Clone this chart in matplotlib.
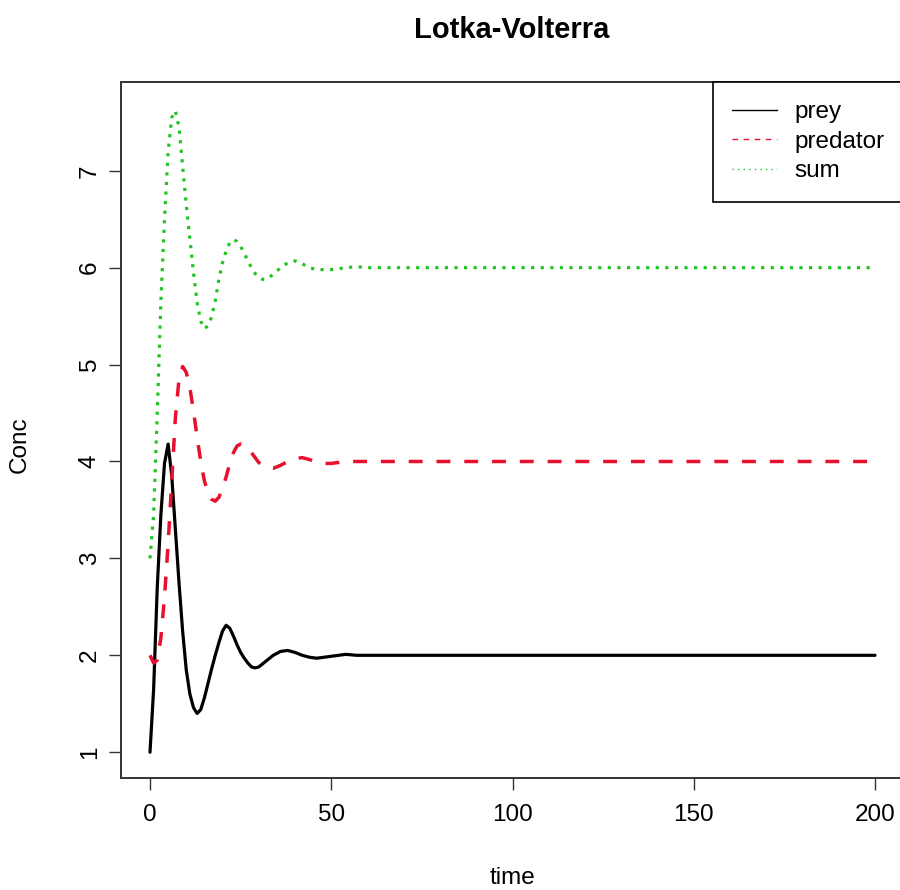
import matplotlib
matplotlib.use('Agg')
import matplotlib.pyplot as plt
from matplotlib.lines import Line2D

plt.rcParams['font.family'] = ['Liberation Sans', 'DejaVu Sans']

# values
time = [0, 1, 2, 3, 4, 5, 6, 7, 8, 9, 10, 11, 12, 13, 14, 15, 16, 17, 18, 19,
        20, 21, 22, 23, 24, 25, 26, 27, 28, 29, 30, 31, 32, 34, 36, 38, 40, 42,
        44, 46, 48, 50, 52, 54, 57, 60, 80, 100, 150, 200]
prey = [1.00, 1.65, 2.70, 3.45, 3.98, 4.18, 3.85, 3.30, 2.75, 2.25, 1.85, 1.60,
        1.46, 1.40, 1.44, 1.56, 1.71, 1.86, 2.00, 2.13, 2.25, 2.31, 2.28, 2.20,
        2.11, 2.03, 1.97, 1.92, 1.88, 1.87, 1.88, 1.91, 1.94, 2.00, 2.04, 2.05,
        2.03, 2.00, 1.98, 1.97, 1.98, 1.99, 2.00, 2.01, 2.00, 2.00, 2.00, 2.00,
        2.00, 2.00]
predator = [2.00, 1.92, 1.95, 2.18, 2.60, 3.15, 3.80, 4.45, 4.85, 4.98, 4.92,
            4.76, 4.52, 4.25, 4.00, 3.80, 3.68, 3.61, 3.59, 3.63, 3.72, 3.84,
            3.98, 4.09, 4.16, 4.18, 4.17, 4.13, 4.09, 4.04, 3.99, 3.96, 3.94,
            3.93, 3.96, 4.00, 4.03, 4.04, 4.02, 3.99, 3.98, 3.98, 3.99, 4.00,
            4.00, 4.00, 4.00, 4.00, 4.00, 4.00]
total = [3.00, 3.45, 4.50, 5.65, 6.50, 7.20, 7.55, 7.62, 7.45, 7.05, 6.65, 6.30,
         5.95, 5.64, 5.45, 5.37, 5.40, 5.49, 5.66, 5.88, 6.05, 6.17, 6.26, 6.29,
         6.27, 6.22, 6.15, 6.07, 6.00, 5.94, 5.90, 5.88, 5.88, 5.93, 6.00, 6.05,
         6.07, 6.04, 6.00, 5.98, 5.98, 5.98, 5.99, 6.00, 6.01, 6.00, 6.00, 6.00,
         6.00, 6.00]

names = ['prey', 'predator', 'sum']
colors = ['black', '#e8102e', '#22c422']
xticks = [0, 50, 100, 150, 200]
yticks = [1, 2, 3, 4, 5, 6, 7]

fs = 17.5

fig = plt.figure(figsize=(9, 8.9), dpi=100)
ax = fig.add_axes([121/900, 1 - 778/890, (904 - 121)/900, (778 - 82)/890])

ax.plot(time, prey, color=colors[0], lw=2.3, solid_capstyle='round')
ax.plot(time, predator, color=colors[1], lw=2.5, dashes=(4.0, 4.0))
ax.plot(time, total, color=colors[2], lw=2.3, dashes=(1.0, 2.0))

ax.set_xlim(-8, 208)
ax.set_ylim(0.734, 7.916)
ax.set_xticks(xticks)
ax.set_yticks(yticks)
ax.set_xticklabels([str(v) for v in xticks])
ax.set_yticklabels([str(v) for v in yticks], rotation=90, va='center')
ax.tick_params(length=8.5, width=1, labelsize=fs, color='#333333')
ax.tick_params(axis='x', pad=10)
ax.tick_params(axis='y', pad=6)
for s in ax.spines.values():
    s.set_linewidth(1.4)
    s.set_color('#333333')

handles = [Line2D([], [], color=colors[0], lw=1),
           Line2D([], [], color=colors[1], lw=1, dashes=(4, 4)),
           Line2D([], [], color=colors[2], lw=1, dashes=(1, 3))]
leg = ax.legend(handles, names, loc='upper right', borderaxespad=0,
                fontsize=fs, handlelength=1.85, handletextpad=0.7,
                labelspacing=0.3, borderpad=0.8, fancybox=False,
                framealpha=1, edgecolor='black')
leg.get_frame().set_linewidth(1.2)

fig.text(512/900, 1 - 30/890, 'Lotka-Volterra', ha='center', va='center',
         fontsize=21, fontweight='bold')
fig.text(512/900, 1 - 878/890, 'time', ha='center', va='center', fontsize=fs)
fig.text(20/900, 1 - 445/890, 'Conc', ha='center', va='center', fontsize=fs,
         rotation=90)

fig.savefig('out.png', dpi=100)
